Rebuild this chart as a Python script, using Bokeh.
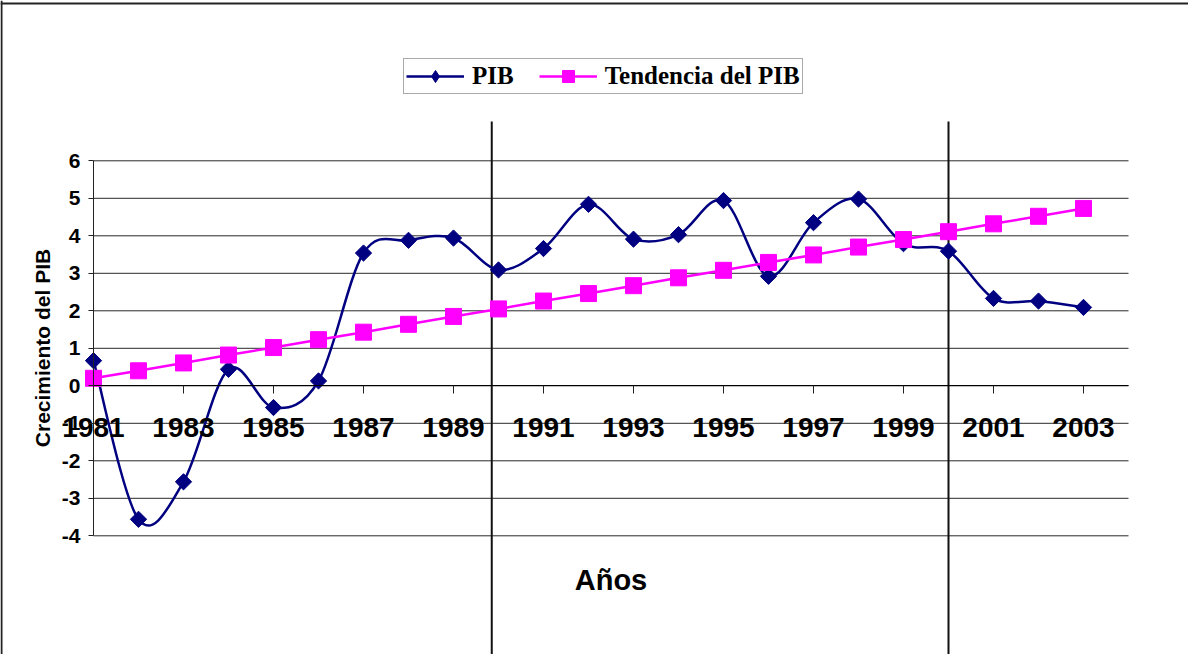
import numpy as np
from bokeh.plotting import figure
from bokeh.models import Range1d, LinearAxis, FixedTicker, Legend, LegendItem, ColumnDataSource
from bokeh.embed import file_html
from bokeh.resources import INLINE

# ---------------- data ----------------
years = list(range(1981, 2004))
pib = [0.67, -3.56, -2.56, 0.44, -0.58, 0.13, 3.54, 3.88, 3.94, 3.09, 3.66, 4.84,
       3.91, 4.03, 4.94, 2.92, 4.35, 4.98, 3.79, 3.59, 2.33, 2.26, 2.09]
tendencia = [0.20, 0.40, 0.61, 0.82, 1.02, 1.23, 1.43, 1.64, 1.85, 2.05, 2.26, 2.46,
             2.67, 2.88, 3.08, 3.29, 3.49, 3.70, 3.90, 4.11, 4.32, 4.52, 4.73]
y_ticks = [-4, -3, -2, -1, 0, 1, 2, 3, 4, 5, 6]
x_ticks = [1981, 1983, 1985, 1987, 1989, 1991, 1993, 1995, 1997, 1999, 2001, 2003]
period_breaks = [1989.85, 2000.0]

# ---------------- geometry ----------------
PX_YEAR = 45.0
PX_UNIT = 37.5
W, H = 1188, 654
x_start = 1981 - 93 / PX_YEAR
x_end = x_start + W / PX_YEAR
y_end = 0 + (393.3 - 8) / PX_UNIT
y_start = y_end - H / PX_UNIT
cat_end = years[-1] + 1

NAVY = "#000080"
MAGENTA = "#FF00FF"

p = figure(width=W, height=H, x_range=Range1d(x_start, x_end), y_range=Range1d(y_start, y_end),
           output_backend="svg", toolbar_location=None, min_border=0,
           x_axis_type=None, y_axis_type=None)
p.outline_line_color = None
p.background_fill_color = "white"
p.border_fill_color = "white"

# chart border (top and left edges)
p.segment(x0=[x_start, x_start + 1 / PX_YEAR], x1=[x_end, x_start + 1 / PX_YEAR],
          y0=[y_end - 3 / PX_UNIT, y_end], y1=[y_end - 3 / PX_UNIT, y_start],
          line_color="#222222", line_width=2)

# horizontal grid lines
p.segment(x0=[years[0]] * len(y_ticks), x1=[cat_end] * len(y_ticks), y0=y_ticks, y1=y_ticks,
          line_color="#2a2a2a", line_width=1)

# vertical period lines
p.segment(x0=period_breaks, x1=period_breaks, y0=[7.05] * 2, y1=[y_start] * 2,
          line_color="#111111", line_width=2)

# smoothed PIB line (Bezier through the data points)
n = len(years)
xs = np.array(years, dtype=float)
ys = np.array(pib, dtype=float)
def nb(a, i):
    return a[min(max(i, 0), n - 1)]
src = ColumnDataSource(dict(
    x0=xs[:-1], y0=ys[:-1], x1=xs[1:], y1=ys[1:],
    cx0=[xs[i] + (nb(xs, i + 1) - nb(xs, i - 1)) / 6 for i in range(n - 1)],
    cy0=[ys[i] + (nb(ys, i + 1) - nb(ys, i - 1)) / 6 for i in range(n - 1)],
    cx1=[xs[i + 1] - (nb(xs, i + 2) - nb(xs, i)) / 6 for i in range(n - 1)],
    cy1=[ys[i + 1] - (nb(ys, i + 2) - nb(ys, i)) / 6 for i in range(n - 1)],
))
pib_line = p.bezier(x0="x0", y0="y0", x1="x1", y1="y1", cx0="cx0", cy0="cy0", cx1="cx1", cy1="cy1",
                    source=src, line_color=NAVY, line_width=2.5)
# legend key glyph (diamond), drawn underneath the first PIB marker where it is fully covered
pib_key = p.scatter(years[:1], pib[:1], marker="diamond", size=13, fill_color=NAVY, line_color=NAVY)
pib_pts = p.scatter(years, pib, marker="square", angle=np.pi / 4, size=11.5,
                    fill_color=NAVY, line_color=NAVY)

tr_line = p.line(years, tendencia, line_color=MAGENTA, line_width=2.5)
tr_pts = p.scatter(years, tendencia, marker="square", size=16, fill_color=MAGENTA, line_color=MAGENTA)

# axes
xaxis = LinearAxis(fixed_location=0, bounds=(years[0], cat_end),
                   ticker=FixedTicker(ticks=x_ticks, minor_ticks=[]))
xaxis.axis_label = "Años"
xaxis.axis_label_text_font = "Liberation Sans"
xaxis.axis_label_text_font_style = "bold"
xaxis.axis_label_text_font_size = "29px"
xaxis.axis_label_text_color = "black"
xaxis.axis_label_standoff = 124
xaxis.major_label_text_font = "Liberation Sans"
xaxis.major_label_text_font_style = "bold"
xaxis.major_label_text_font_size = "28px"
xaxis.major_label_text_color = "black"
xaxis.major_label_standoff = 24
xaxis.major_tick_out = 8
xaxis.major_tick_in = 0
xaxis.major_tick_line_color = "#222222"
xaxis.axis_line_color = "black"
xaxis.axis_line_width = 1
p.add_layout(xaxis, "below")

yaxis = LinearAxis(fixed_location=years[0], bounds=(y_ticks[0], y_ticks[-1]),
                   ticker=FixedTicker(ticks=y_ticks, minor_ticks=[]))
yaxis.major_label_overrides = {float(t): str(t) for t in y_ticks}
yaxis.axis_label = "Crecimiento del PIB"
yaxis.axis_label_text_font = "Liberation Sans"
yaxis.axis_label_text_font_style = "bold"
yaxis.axis_label_text_font_size = "21px"
yaxis.axis_label_text_color = "black"
yaxis.axis_label_standoff = 5
yaxis.major_label_text_font = "Liberation Sans"
yaxis.major_label_text_font_style = "bold"
yaxis.major_label_text_font_size = "21px"
yaxis.major_label_text_color = "black"
yaxis.major_label_standoff = 8
yaxis.major_tick_out = 5
yaxis.major_tick_in = 0
yaxis.major_tick_line_color = "#222222"
yaxis.axis_line_color = "#222222"
p.add_layout(yaxis, "left")

legend = Legend(items=[LegendItem(label="PIB", renderers=[pib_line, pib_key]),
                       LegendItem(label="Tendencia del PIB", renderers=[tr_line, tr_pts])],
                orientation="horizontal", location=(403, 560),
                label_text_font="Liberation Serif", label_text_font_style="bold",
                label_text_font_size="25px", label_text_color="black",
                glyph_width=58, glyph_height=30, label_standoff=8, spacing=25,
                padding=2, margin=0, border_line_color="#555555", border_line_width=1.5,
                background_fill_color="white", background_fill_alpha=1)
p.add_layout(legend)

open("out.html", "w").write(file_html(p, INLINE))
